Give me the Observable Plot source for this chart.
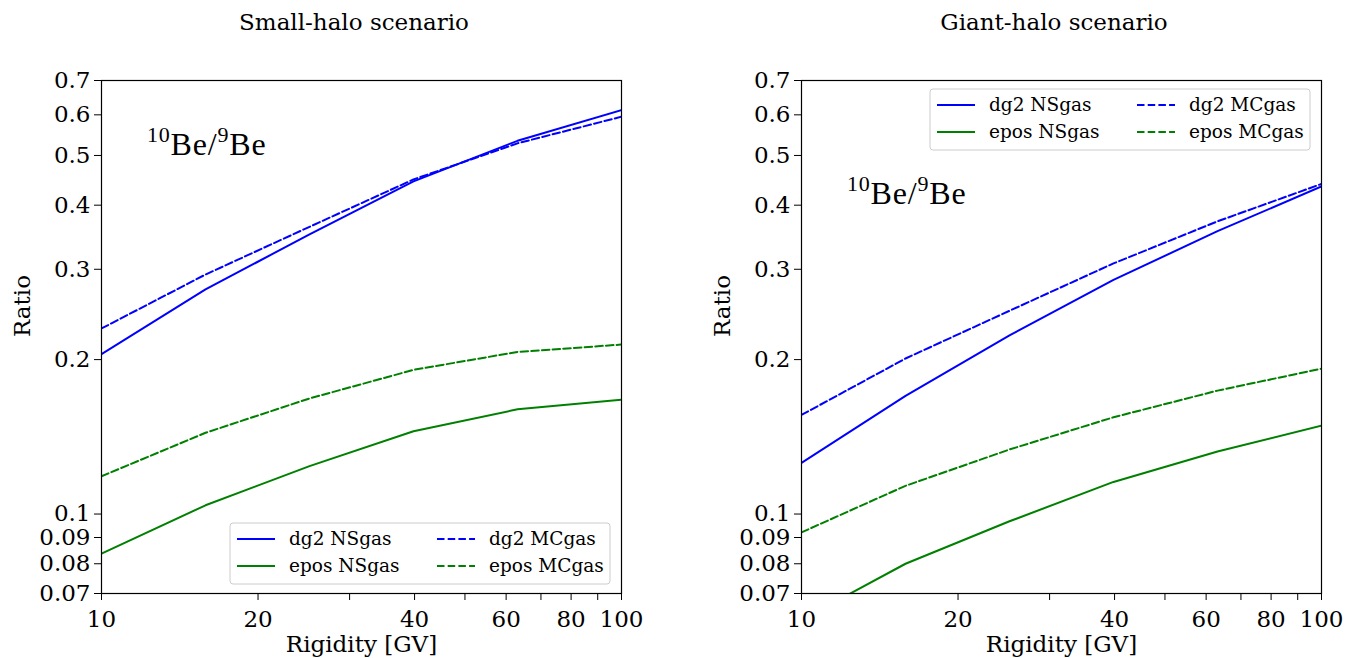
<!DOCTYPE html>
<html>
<head>
<meta charset="utf-8">
<script src="https://cdn.jsdelivr.net/npm/d3@7"></script>
<script src="https://cdn.jsdelivr.net/npm/@observablehq/plot@0.6"></script>
<style>
  html, body { margin: 0; padding: 0; background: #fff; overflow: hidden; }
  #root { position: relative; width: 1354px; height: 658px; background: #fff; }
  .panel { position: absolute; top: 0; width: 654px; height: 658px; }
  .title { position: absolute; top: 7px; transform: translateX(-50%); white-space: nowrap;
           font-family: "DejaVu Serif", serif; font-size: 23px; line-height: 30px; color: #000; }
  .panel svg { position: absolute; left: 0; top: 45px; }
</style>
</head>
<body>
<div id="root"></div>
<script>
// ---------- data ----------
const rigidity = [10, 15.85, 25.12, 39.81, 63.1, 100];

const panelTitles = ["Small-halo scenario", "Giant-halo scenario"];

// Small-halo scenario
const smallDg2NS   = [0.205, 0.274, 0.351, 0.445, 0.534, 0.613];
const smallDg2MC   = [0.230, 0.293, 0.363, 0.449, 0.528, 0.595];
const smallEposNS  = [0.0837, 0.104, 0.124, 0.145, 0.160, 0.167];
const smallEposMC  = [0.1185, 0.144, 0.168, 0.191, 0.207, 0.214];

// Giant-halo scenario
const giantDg2NS   = [0.1258, 0.170, 0.223, 0.286, 0.356, 0.435];
const giantDg2MC   = [0.156, 0.201, 0.249, 0.308, 0.372, 0.440];
const giantEposNS  = [0.0622, 0.080, 0.0968, 0.1155, 0.1324, 0.1487];
const giantEposMC  = [0.0921, 0.1135, 0.1336, 0.1544, 0.174, 0.192];

const seriesNames  = ["dg2 NSgas", "epos NSgas", "dg2 MCgas", "epos MCgas"];
const seriesColors = ["#0000ff", "#008000", "#0000ff", "#008000"];
const seriesDashes = [null, null, "7.5,3.2", "7.5,3.2"];

const xTicks  = [10, 20, 30, 40, 50, 60, 70, 80, 90, 100];
const xLabels = [10, 20, 40, 60, 80, 100];
const yTicks  = [0.07, 0.08, 0.09, 0.1, 0.2, 0.3, 0.4, 0.5, 0.6, 0.7];

const panels = [
  { values: [smallDg2NS, smallEposNS, smallDg2MC, smallEposMC], legendTop: 478, annot: [147, 110] },
  { values: [giantDg2NS, giantEposNS, giantDg2MC, giantEposMC], legendTop: 44,  annot: [147, 159] }
];

// ---------- layout ----------
const W = 654, H = 613, ML = 101, MR = 33, MT = 35, MB = 65;
const root = document.getElementById("root");

panels.forEach((p, pi) => {
  const div = document.createElement("div");
  div.className = "panel";
  div.style.left = (pi * 700) + "px";
  root.appendChild(div);

  const t = document.createElement("div");
  t.className = "title";
  t.style.left = "354px";
  t.textContent = panelTitles[pi];
  div.appendChild(t);

  const lineMarks = p.values.map((vals, si) =>
    Plot.line(rigidity.map((x, i) => ({x, y: vals[i]})), {
      x: "x", y: "y",
      stroke: seriesColors[si],
      strokeWidth: 2,
      strokeDasharray: seriesDashes[si] || undefined,
      clip: true
    })
  );

  const svg = Plot.plot({
    width: W, height: H,
    marginLeft: ML, marginRight: MR, marginTop: MT, marginBottom: MB,
    style: { fontFamily: "DejaVu Serif, serif", fontSize: "23px", color: "#000", background: "#fff", overflow: "visible" },
    x: { type: "log", domain: [10, 100] },
    y: { type: "log", domain: [0.07, 0.7] },
    marks: [
      ...lineMarks,
      Plot.axisX({ ticks: xTicks, tickFormat: d => xLabels.includes(d) ? String(d) : "", tickSize: 7, tickPadding: 10, label: null, stroke: "#000", fontSize: 23 }),
      Plot.axisY({ ticks: yTicks, tickFormat: d => String(d), tickSize: 7, tickPadding: 4, label: null, stroke: "#000", fontSize: 23 }),
      Plot.frame({ stroke: "#000", strokeWidth: 1.2 }),
      Plot.text(["Ratio"], { text: d => d, frameAnchor: "left", dx: -79, rotate: -90, fontSize: 23 }),
      Plot.text(["Rigidity [GV]"], { text: d => d, frameAnchor: "bottom", dy: 58, fontSize: 23 })
    ]
  });
  div.appendChild(svg);

  const s = d3.select(svg);

  // annotation 10Be/9Be
  const an = s.append("text")
    .attr("x", p.annot[0]).attr("y", p.annot[1])
    .attr("text-anchor", "start")
    .attr("font-family", "Liberation Serif, serif")
    .attr("font-size", 32).attr("fill", "#000")
    .attr("letter-spacing", "0.8px");
  an.append("tspan").attr("font-size", 22).attr("dy", -13).text("10");
  an.append("tspan").attr("dy", 13).text("Be/");
  an.append("tspan").attr("font-size", 22).attr("dy", -13).text("9");
  an.append("tspan").attr("dy", 13).text("Be");

  // legend
  const lx = 230, ly = p.legendTop, lw = 380, lh = 61;
  const g = s.append("g").attr("transform", `translate(${lx},${ly})`);
  g.append("rect").attr("width", lw).attr("height", lh).attr("rx", 3)
    .attr("fill", "#fff").attr("fill-opacity", 0.8).attr("stroke", "#cccccc").attr("stroke-width", 1);
  seriesNames.forEach((name, i) => {
    const col = Math.floor(i / 2), row = i % 2;
    const x0 = col === 0 ? 7 : 207;
    const yy = row === 0 ? 16 : 43;
    g.append("line").attr("x1", x0).attr("x2", x0 + 38).attr("y1", yy).attr("y2", yy)
      .attr("stroke", seriesColors[i]).attr("stroke-width", 2)
      .attr("stroke-dasharray", seriesDashes[i]);
    g.append("text").attr("x", x0 + 52).attr("y", yy).attr("dy", "0.35em")
      .attr("text-anchor", "start")
      .attr("font-family", "DejaVu Serif, serif").attr("font-size", 18.5).attr("fill", "#000")
      .text(name);
  });
});
</script>
</body>
</html>
